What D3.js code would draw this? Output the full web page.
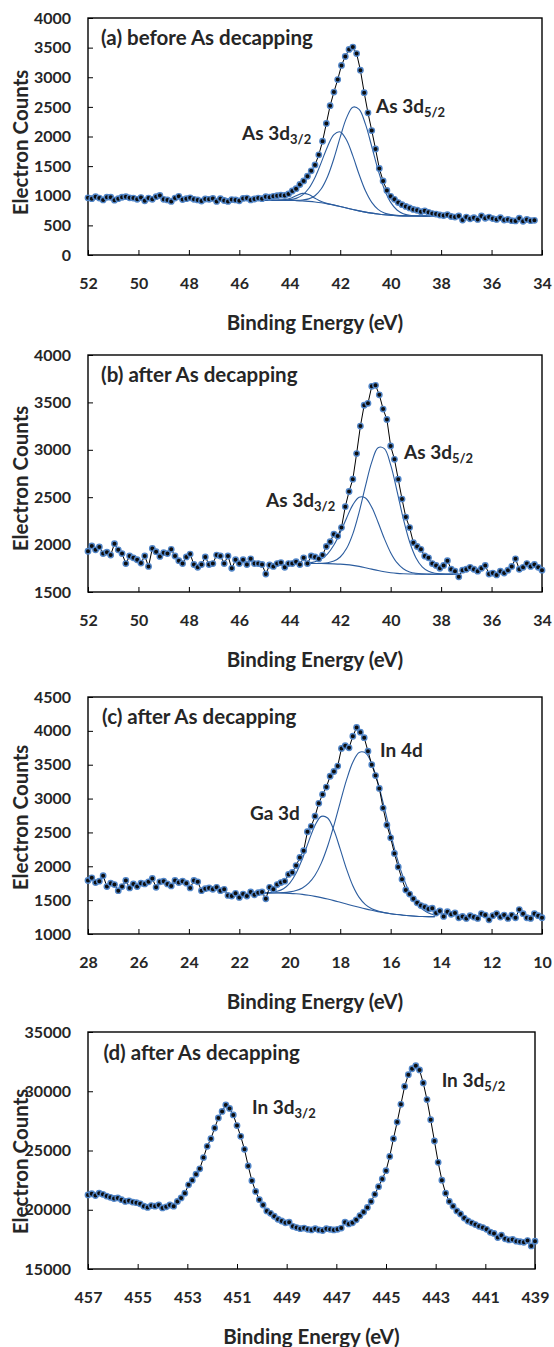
<!DOCTYPE html>
<html lang="en">
<head>
<meta charset="utf-8">
<title>XPS spectra - As decapping</title>
<script src="https://d3js.org/d3.v7.min.js"></script>
<style>
  body { margin: 0; background: #fff; }
  svg text { font-family: Lato, 'Open Sans', sans-serif; font-weight: bold; fill: #262626; }
  .tick text { font-size: 16px; }
  .tick line { stroke: #000; stroke-width: 1px; }
  .frame { fill: none; stroke: #000; stroke-width: 1.4px; }
  .axis-title { font-size: 20.5px; }
  .panel-title { font-size: 20.5px; }
  .peak-label { font-size: 19px; }
  .peak-label .sub { font-size: 13px; }
  .data-line { fill: none; stroke: #000; stroke-width: 1px; }
  .fit { fill: none; stroke: #2b5c9e; stroke-width: 1.1px; }
  .dot { fill: #0d0d0d; stroke: #5286c8; stroke-width: 1.4px; }
</style>
</head>
<body>
<svg id="chart" width="554" height="1347"></svg>
<script>
// measured spectra: counts on a regular 0.15 eV grid, starting at the high BE end
const STEP = 0.15;
const FIT_STEP = 0.25;

const countsA = [965, 950, 985, 960, 930, 975, 975, 925, 950, 975,
  985, 965, 960, 940, 970, 915, 960, 940, 985, 1005,
  940, 930, 905, 960, 990, 935, 950, 965, 940, 930,
  910, 945, 940, 955, 905, 950, 920, 905, 935, 930,
  915, 955, 960, 930, 945, 960, 950, 985, 975, 990,
  1000, 1010, 1005, 1030, 1080, 1120, 1190, 1250, 1330, 1420,
  1520, 1690, 1920, 2220, 2520, 2750, 2960, 3200, 3350, 3470,
  3510, 3400, 3120, 2740, 2400, 2100, 1790, 1460, 1250, 1090,
  990, 940, 885, 850, 820, 795, 770, 755, 730, 745,
  720, 700, 690, 675, 665, 680, 650, 640, 660, 590,
  640, 610, 630, 600, 660, 620, 640, 615, 600, 630,
  590, 600, 580, 575, 620, 570, 600, 580, 585];

const countsB = [1930, 1985, 1945, 1975, 1905, 1920, 1890, 2010, 1945, 1905,
  1800, 1880, 1860, 1840, 1805, 1880, 1770, 1960, 1925, 1875,
  1915, 1905, 1950, 1880, 1830, 1800, 1870, 1900, 1790, 1760,
  1790, 1870, 1790, 1800, 1890, 1880, 1800, 1880, 1750, 1840,
  1800, 1840, 1790, 1850, 1800, 1800, 1790, 1690, 1785, 1770,
  1800, 1810, 1760, 1800, 1800, 1820, 1790, 1860, 1800, 1880,
  1870, 1850, 1890, 1980, 2030, 2110, 2090, 2180, 2400, 2560,
  2690, 2960, 3250, 3470, 3490, 3670, 3680, 3580, 3430, 3320,
  3040, 2900, 2690, 2480, 2290, 2180, 2020, 1980, 1950, 1880,
  1860, 1800, 1780, 1750, 1780, 1830, 1740, 1720, 1660, 1730,
  1740, 1760, 1740, 1720, 1750, 1780, 1690, 1700, 1680, 1720,
  1700, 1730, 1770, 1850, 1740, 1760, 1800, 1770, 1790, 1760,
  1730];

const countsC = [1790, 1830, 1760, 1780, 1860, 1700, 1750, 1730, 1640, 1700,
  1790, 1680, 1740, 1700, 1750, 1740, 1770, 1820, 1690, 1770,
  1780, 1740, 1710, 1790, 1760, 1780, 1750, 1680, 1790, 1770,
  1640, 1670, 1680, 1660, 1690, 1640, 1660, 1570, 1560, 1600,
  1540, 1590, 1560, 1620, 1580, 1610, 1620, 1520, 1690, 1660,
  1730, 1760, 1780, 1880, 1910, 2010, 2130, 2230, 2510, 2590,
  2740, 2930, 3060, 3170, 3330, 3400, 3480, 3740, 3780, 3750,
  3920, 4050, 3980, 3900, 3700, 3500, 3340, 3150, 2860, 2610,
  2420, 2190, 1990, 1810, 1650, 1590, 1520, 1460, 1420, 1400,
  1370, 1380, 1310, 1340, 1260, 1330, 1290, 1310, 1240, 1260,
  1230, 1270, 1250, 1230, 1300, 1280, 1210, 1270, 1300, 1250,
  1280, 1230, 1280, 1240, 1360, 1300, 1240, 1230, 1300, 1270,
  1240];

const countsD = [21250, 21350, 21200, 21400, 21300, 21150, 21050, 20950, 21000, 20850,
  20700, 20750, 20650, 20600, 20500, 20300, 20200, 20350, 20300, 20400,
  20150, 20250, 20400, 20300, 20700, 21000, 21400, 22100, 22500, 23000,
  23450, 24400, 25350, 26000, 26900, 27750, 28300, 28850, 28550, 28000,
  27100, 26200, 25100, 23700, 22450, 21550, 20850, 20400, 19900, 19700,
  19450, 19200, 19050, 18900, 18950, 18600, 18500, 18400, 18450, 18350,
  18300, 18400, 18300, 18250, 18400, 18350, 18300, 18350, 18450, 18950,
  18800, 18900, 19150, 19500, 19800, 20200, 20700, 21300, 21950, 22600,
  23300, 24500, 26000, 27400, 28900, 30400, 31400, 31900, 32150, 31800,
  30700, 29300, 27600, 25800, 24000, 22500, 21400, 20700, 20300, 19900,
  19650, 19300, 19050, 18900, 18750, 18600, 18500, 18350, 18100, 18000,
  17650, 17850, 17550, 17450, 17500, 17350, 17300, 17250, 17400, 16950,
  17350];

// fitted components (background + peaks), sampled every 0.25 eV
const bgA  = [925, 925, 924, 923, 921, 918, 913, 905, 895, 881, 863, 842, 818, 793, 768, 745, 724, 707, 692, 680, 671, 665, 661, 659, 658, 657, 657, 657];
const p52A = [925, 925, 924, 923, 922, 922, 927, 947, 1001, 1118, 1325, 1628, 1989, 2314, 2495, 2458, 2208, 1831, 1436, 1109, 888, 760, 698, 671, 662, 658, 657, 657];
const p32A = [925, 925, 925, 927, 934, 956, 1011, 1122, 1309, 1564, 1833, 2032, 2077, 1941, 1672, 1358, 1083, 888, 771, 710, 681, 668, 662, 659, 658, 657, 657, 657];
const p3A  = [925, 925, 925, 931, 954, 1001, 1040, 1021, 958, 902, 867, 843, 818, 793, 768, 745, 724, 707, 692, 680, 671, 665, 661, 659, 658, 657, 657, 657];

const bgB  = [1800, 1800, 1800, 1799, 1797, 1794, 1789, 1781, 1770, 1756, 1741, 1726, 1713, 1703, 1696, 1692, 1690, 1689, 1688, 1688, 1688, 1688, 1688, 1688, 1688];
const p52B = [1800, 1801, 1803, 1809, 1826, 1869, 1958, 2113, 2342, 2616, 2870, 3022, 3012, 2841, 2567, 2274, 2030, 1862, 1765, 1718, 1698, 1691, 1689, 1688, 1688];
const p32B = [1807, 1820, 1848, 1903, 1995, 2126, 2279, 2419, 2500, 2492, 2394, 2236, 2063, 1915, 1809, 1745, 1712, 1697, 1691, 1689, 1688, 1688, 1688, 1688, 1688];

const bgC   = [1606, 1606, 1605, 1603, 1600, 1594, 1585, 1572, 1556, 1537, 1516, 1493, 1468, 1443, 1418, 1394, 1371, 1350, 1331, 1314, 1299, 1287, 1277, 1269, 1263, 1259, 1257, 1256];
const gaC   = [1608, 1614, 1630, 1669, 1752, 1897, 2111, 2368, 2604, 2737, 2713, 2532, 2253, 1959, 1713, 1541, 1435, 1374, 1339, 1316, 1299, 1287, 1277, 1269, 1263, 1259, 1257, 1256];
const in4dC = [1606, 1607, 1609, 1612, 1622, 1641, 1679, 1750, 1868, 2047, 2296, 2604, 2945, 3275, 3538, 3682, 3675, 3514, 3228, 2865, 2482, 2129, 1836, 1615, 1463, 1367, 1311, 1281];

// ticks
const xTicksAB = [52, 50, 48, 46, 44, 42, 40, 38, 36, 34];
const xTicksC  = [28, 26, 24, 22, 20, 18, 16, 14, 12, 10];
const xTicksD  = [457, 455, 453, 451, 449, 447, 445, 443, 441, 439];
const yTicksA  = [0, 500, 1000, 1500, 2000, 2500, 3000, 3500, 4000];
const yTicksB  = [1500, 2000, 2500, 3000, 3500, 4000];
const yTicksC  = [1000, 1500, 2000, 2500, 3000, 3500, 4000, 4500];
const yTicksD  = [15000, 20000, 25000, 30000, 35000];

// texts (anchored at energy / counts positions)
const panelTitles = ['(a) before As decapping', '(b) after As decapping', '(c) after As decapping', '(d) after As decapping'];
const peaksA = [{ main: 'As 3d', sub: '5/2', e: 40.58, v: 2400 }, { main: 'As 3d', sub: '3/2', e: 45.89, v: 1945 }];
const peaksB = [{ main: 'As 3d', sub: '5/2', e: 39.47, v: 2905 }, { main: 'As 3d', sub: '3/2', e: 44.94, v: 2400 }];
const peaksC = [{ main: 'In 4d', sub: '', e: 16.42, v: 3615 }, { main: 'Ga 3d', sub: '', e: 21.58, v: 2685 }];
const peaksD = [{ main: 'In 3d', sub: '5/2', e: 442.76, v: 30360 }, { main: 'In 3d', sub: '3/2', e: 450.40, v: 28080 }];

const PLOT_LEFT = 88, PLOT_HEIGHT = 237;

const panels = [
  { top: 18,   right: 542, start: 52,  end: 34,  yDomain: [0, 4000],      xTicks: xTicksAB, yTicks: yTicksA,
    counts: countsA, fitStart: 45.0,  fits: [bgA, p52A, p32A, p3A], title: panelTitles[0], tE: 51.48, tV: 3544, peaks: peaksA, yShift: 6 },
  { top: 355,  right: 542, start: 52,  end: 34,  yDomain: [1500, 4000],   xTicks: xTicksAB, yTicks: yTicksB,
    counts: countsB, fitStart: 43.25, fits: [bgB, p52B, p32B], title: panelTitles[1], tE: 51.48, tV: 3715, peaks: peaksB, yShift: 5 },
  { top: 697,  right: 542, start: 28,  end: 10,  yDomain: [1000, 4500],   xTicks: xTicksC,  yTicks: yTicksC,
    counts: countsC, fitStart: 21.0,  fits: [bgC, gaC, in4dC], title: panelTitles[2], tE: 27.44, tV: 4100, peaks: peaksC, yShift: 2 },
  { top: 1032, right: 535, start: 457, end: 439, yDomain: [15000, 35000], xTicks: xTicksD,  yTicks: yTicksD,
    counts: countsD, fitStart: null, fits: [], title: panelTitles[3], tE: 456.38, tV: 32640, peaks: peaksD, yShift: 11 }
];

const svg = d3.select('#chart');

panels.forEach(p => {
  const x = d3.scaleLinear().domain([p.start, p.end]).range([PLOT_LEFT, p.right]);
  const y = d3.scaleLinear().domain(p.yDomain).range([p.top + PLOT_HEIGHT, p.top]);
  const g = svg.append('g');
  const bottom = p.top + PLOT_HEIGHT;

  // axes with inside ticks
  g.append('g')
    .attr('transform', `translate(${PLOT_LEFT},0)`)
    .call(d3.axisLeft(y).tickValues(p.yTicks).tickSize(-5).tickPadding(17).tickFormat(d3.format('d')))
    .call(a => a.select('.domain').remove());
  g.append('g')
    .attr('transform', `translate(0,${bottom})`)
    .call(d3.axisBottom(x).tickValues(p.xTicks).tickSize(-5).tickPadding(23).tickFormat(d3.format('d')))
    .call(a => a.select('.domain').remove());

  g.append('rect').attr('class', 'frame')
    .attr('x', PLOT_LEFT).attr('y', p.top)
    .attr('width', p.right - PLOT_LEFT).attr('height', PLOT_HEIGHT);

  // fitted components
  const fitLine = d3.line()
    .x((d, i) => x(p.fitStart - i * FIT_STEP))
    .y(d => y(d))
    .curve(d3.curveCatmullRom.alpha(0.5));
  g.selectAll('path.fit').data(p.fits).join('path')
    .attr('class', 'fit')
    .attr('d', fitLine);

  // measured points
  const pts = p.counts.map((c, i) => ({ e: p.start - i * STEP, c }));
  g.append('path').datum(pts).attr('class', 'data-line')
    .attr('d', d3.line().x(d => x(d.e)).y(d => y(d.c)));
  g.selectAll('circle.dot').data(pts).join('circle')
    .attr('class', 'dot')
    .attr('cx', d => x(d.e)).attr('cy', d => y(d.c))
    .attr('r', 2.7);

  // texts
  g.append('text').attr('class', 'panel-title')
    .attr('x', x(p.tE)).attr('y', y(p.tV))
    .text(p.title);

  const lab = g.selectAll('text.peak-label').data(p.peaks).join('text')
    .attr('class', 'peak-label')
    .attr('x', d => x(d.e)).attr('y', d => y(d.v));
  lab.append('tspan').text(d => d.main);
  lab.filter(d => d.sub).append('tspan').attr('class', 'sub').attr('dy', 4).text(d => d.sub);

  g.append('text').attr('class', 'axis-title')
    .attr('text-anchor', 'middle')
    .attr('x', (PLOT_LEFT + p.right) / 2).attr('y', bottom + 75)
    .text('Binding Energy (eV)');

  g.append('text').attr('class', 'axis-title')
    .attr('text-anchor', 'middle')
    .attr('transform', `translate(28,${p.top + PLOT_HEIGHT / 2 + p.yShift}) rotate(-90)`)
    .text('Electron Counts');
});
</script>
</body>
</html>
